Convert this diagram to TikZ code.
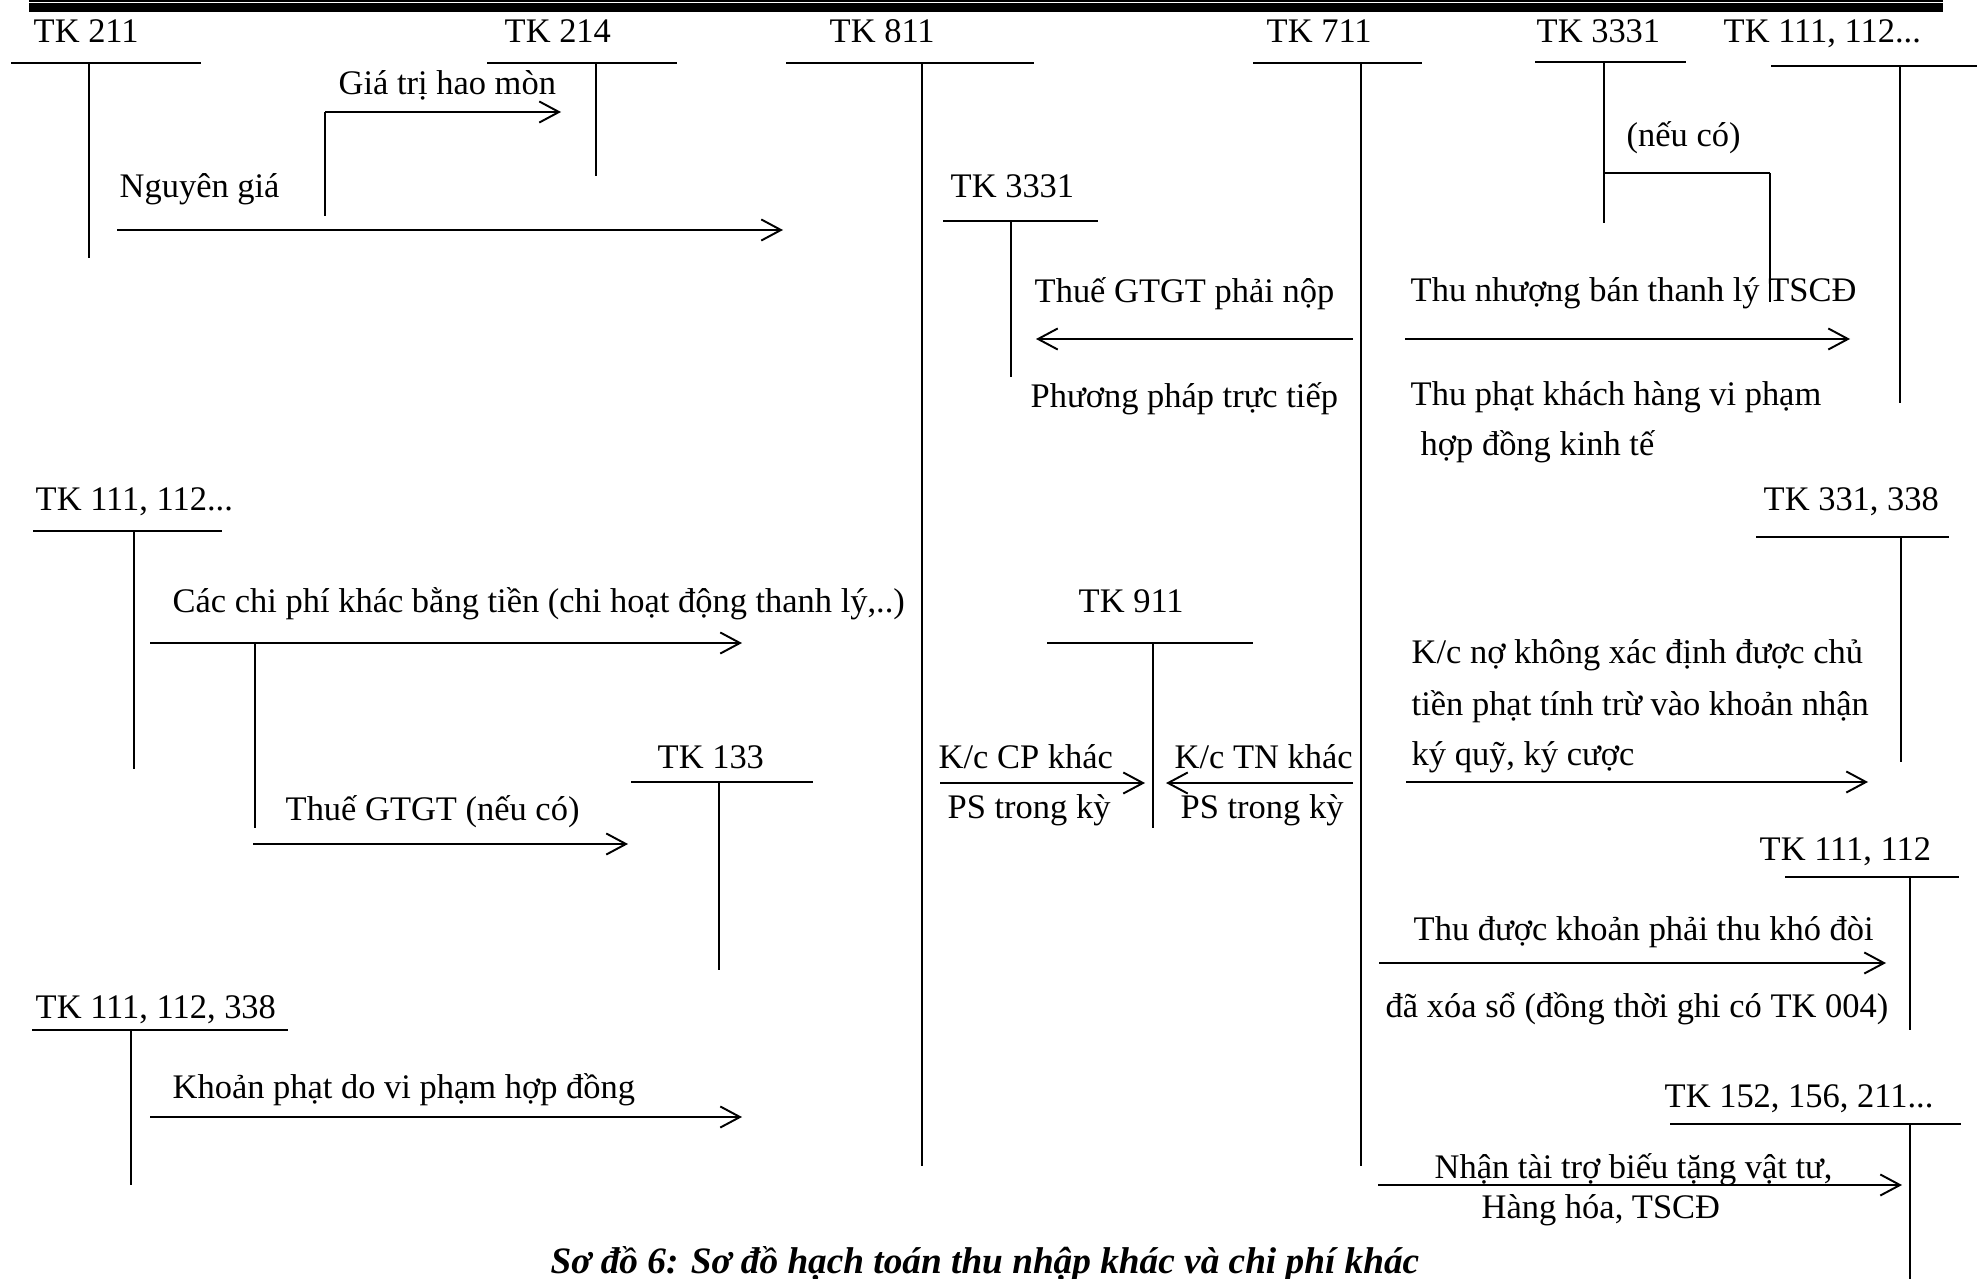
\documentclass[tikz,border=0pt]{standalone}
\usepackage{fontspec}
\setmainfont{Liberation Serif}
\usepackage{tikz}
\usetikzlibrary{arrows.meta,positioning}
\newcommand{\tacc}[5]{\draw[tbar] (#1,#3) -- (#2,#3); \draw[tpost] (#4,#3) -- (#4,#5);}

\begin{document}
\begin{tikzpicture}[
  x=0.01cm,y=-0.01cm,
  font=\fontsize{9.8pt}{11.5pt}\selectfont,
  lbl/.style={inner sep=0pt,anchor=base west},
  tbar/.style={line width=0.77pt},
  tpost/.style={line width=0.5pt},
  thin/.style={line width=0.45pt},
  flow/.style={line width=0.72pt,-{Straight Barb[length=5.6pt,width=6pt,line width=0.55pt]}},
  title/.style={inner sep=0pt,anchor=base,font=\bfseries\itshape\fontsize{10.6pt}{13pt}\selectfont}]
\useasboundingbox (0,0) rectangle (1982,1279);
\draw[line width=0.45pt] (29,0.9) -- (1943,0.9);
\fill (29,3.4) rectangle (1943,11.7);
\node[lbl] (k211) at (33,43) {TK 211};
\node[lbl] (k214) at (504,43) {TK 214};
\node[lbl] (k811) at (829,43) {TK 811};
\node[lbl] (k711) at (1266,43) {TK 711};
\node[lbl] (k3331a) at (1536,43) {TK 3331};
\node[lbl] (k111a) at (1723,43) {TK 111, 112...};
\node[lbl] (k3331b) at (950,198) {TK 3331};
\node[lbl] (k111b) at (35,510) {TK 111, 112...};
\node[lbl] (k331) at (1763,510) {TK 331, 338};
\node[lbl] (k911) at (1078,612) {TK 911};
\node[lbl] (k133) at (657,768) {TK 133};
\node[lbl] (k111c) at (1759,860) {TK 111, 112};
\node[lbl] (k338) at (35,1018) {TK 111, 112, 338};
\node[lbl] (k152) at (1664,1107) {TK 152, 156, 211...};
\tacc{11}{201}{63}{89}{258}
\tacc{487}{677}{63}{596}{176}
\tacc{786}{1034}{63}{922}{1166}
\tacc{1253}{1422}{63}{1361}{1166}
\tacc{1535}{1686}{62}{1604}{223}
\tacc{1771}{1977}{66}{1900}{403}
\tacc{943}{1098}{221}{1011}{377}
\tacc{33}{222}{531}{134}{769}
\tacc{1756}{1949}{537}{1901}{762}
\tacc{1047}{1253}{643}{1153}{828}
\tacc{631}{813}{782}{719}{970}
\tacc{1785}{1959}{877}{1910}{1030}
\tacc{32}{288}{1030}{131}{1185}
\tacc{1670}{1961}{1124}{1910}{1279}
\node[lbl] (hm) at (338,95) {Giá trị hao mòn};
\node[lbl] (ng) at (119,198) {Nguyên giá};
\node[lbl] (nc) at (1626,147) {(nếu có)};
\node[lbl] (vat) at (1034,302) {Thuế GTGT phải nộp};
\node[lbl] (pp) at (1030,407) {Phương pháp trực tiếp};
\node[lbl] (tl) at (1410,301) {Thu nhượng bán thanh lý TSCĐ};
\node[lbl] (tp1) at (1410,405) {Thu phạt khách hàng vi phạm};
\node[lbl] (tp2) at (1420,455) {hợp đồng kinh tế};
\node[lbl] (cp) at (172,612) {Các chi phí khác bằng tiền (chi hoạt động thanh lý,..)};
\node[lbl] (kn1) at (1411,663) {K/c nợ không xác định được chủ};
\node[lbl] (kn2) at (1411,715) {tiền phạt tính trừ vào khoản nhận};
\node[lbl] (kn3) at (1411,765) {ký quỹ, ký cược};
\node[lbl] (kcp1) at (938,768) {K/c CP khác};
\node[lbl] (kcp2) at (947,818) {PS trong kỳ};
\node[lbl] (ktn1) at (1174,768) {K/c TN khác};
\node[lbl] (ktn2) at (1180,818) {PS trong kỳ};
\node[lbl] (gt) at (285,820) {Thuế GTGT (nếu có)};
\node[lbl] (kd1) at (1413,940) {Thu được khoản phải thu khó đòi};
\node[lbl] (kd2) at (1385,1017) {đã xóa sổ (đồng thời ghi có TK 004)};
\node[lbl] (kp) at (172,1098) {Khoản phạt do vi phạm hợp đồng};
\node[lbl] (tt1) at (1434,1178) {Nhận tài trợ biếu tặng vật tư,};
\node[lbl] (tt2) at (1481,1218) {Hàng hóa, TSCĐ};
\node[title] (cap) at (985,1273) {Sơ đồ 6: Sơ đồ hạch toán thu nhập khác và chi phí khác};
\coordinate (ngS) at (117,230); \coordinate (ngE) at (783,230);
\coordinate (hmB) at (325,216); \coordinate (hmS) at (325,112); \coordinate (hmE) at (561,112);
\coordinate (vatS) at (1353,339); \coordinate (vatE) at (1036,339);
\coordinate (tlS) at (1405,339); \coordinate (tlE) at (1850,339);
\coordinate (ncS) at (1604,173); \coordinate (ncC) at (1770,173); \coordinate (ncE) at (1770,302);
\coordinate (cpS) at (150,643); \coordinate (cpE) at (742,643);
\coordinate (gtB) at (255,643); \coordinate (gtC) at (255,828);
\coordinate (gtS) at (253,844); \coordinate (gtE) at (628,844);
\coordinate (kcpS) at (940,783); \coordinate (kcpE) at (1145,783);
\coordinate (ktnS) at (1353,783); \coordinate (ktnE) at (1166,783);
\coordinate (knS) at (1406,782); \coordinate (knE) at (1868,782);
\coordinate (kdS) at (1379,963); \coordinate (kdE) at (1886,963);
\coordinate (kpS) at (150,1117); \coordinate (kpE) at (742,1117);
\coordinate (ttS) at (1378,1185); \coordinate (ttE) at (1902,1185);
\draw[flow] (ngS) -- (ngE);
\draw[thin] (hmB) -- (hmS);
\draw[flow] (hmS) -- (hmE);
\draw[flow] (vatS) -- (vatE);
\draw[flow] (tlS) -- (tlE);
\draw[tbar] (ncS) -- (ncC);
\draw[thin] (ncC) -- (ncE);
\draw[flow] (cpS) -- (cpE);
\draw[thin] (gtB) -- (gtC);
\draw[flow] (gtS) -- (gtE);
\draw[flow] (kcpS) -- (kcpE);
\draw[flow] (ktnS) -- (ktnE);
\draw[flow] (knS) -- (knE);
\draw[flow] (kdS) -- (kdE);
\draw[flow] (kpS) -- (kpE);
\draw[flow] (ttS) -- (ttE);
\end{tikzpicture}
\end{document}
